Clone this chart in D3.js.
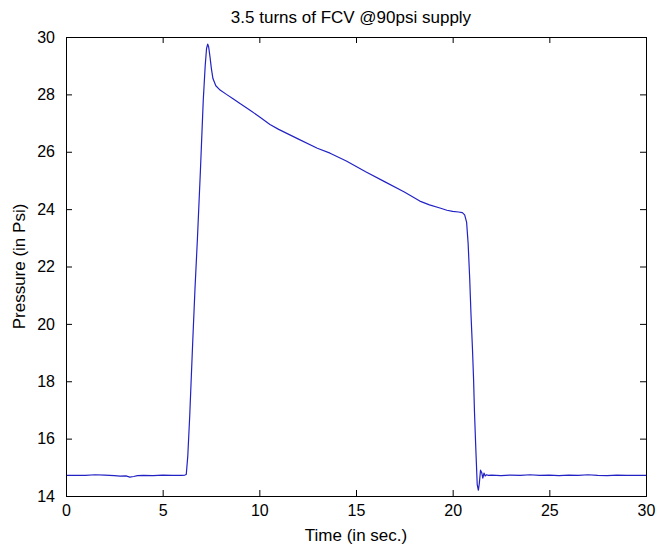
<!DOCTYPE html>
<html><head><meta charset="utf-8">
<script src="https://cdn.jsdelivr.net/npm/d3@7/dist/d3.min.js"></script>
<style>body{margin:0;background:#fff}svg{display:block}text{font-family:"Liberation Sans",Arial,sans-serif;fill:#000}</style>
</head><body>
<script>
const title = "3.5 turns of FCV @90psi supply";
const xLabel = "Time (in sec.)";
const yLabel = "Pressure (in Psi)";
const xTicks = [0,5,10,15,20,25,30];
const yTicks = [14,16,18,20,22,24,26,28,30];
const timeSec = [0,0.5,1,1.5,2,2.5,2.8,3.1,3.3,3.5,3.7,4,4.5,5,5.5,6,6.15,6.22,6.3,6.4,6.55,6.67,6.8,6.95,7.1,7.2,7.27,7.33,7.38,7.45,7.52,7.6,7.75,7.97,8.3,8.64,9.0,9.52,10.0,10.55,11,12,13,13.66,14.5,15.5,16.5,17.5,18.3,18.8,19.34,19.7,20.0,20.3,20.5,20.62,20.72,20.8,20.88,20.95,21.02,21.08,21.13,21.2,21.27,21.33,21.38,21.44,21.5,21.56,21.62,21.68,21.75,21.85,22,22.5,23,23.5,24,24.5,25,25.5,26,26.5,27,27.5,28,28.5,29,29.5,30];
const pressurePsi = [14.72,14.72,14.72,14.74,14.73,14.71,14.69,14.7,14.66,14.68,14.71,14.72,14.71,14.73,14.72,14.72,14.73,14.75,15.4,16.8,19.3,21.2,23.0,25.3,27.8,29.0,29.6,29.75,29.65,29.3,28.9,28.55,28.3,28.15,28.0,27.85,27.68,27.45,27.22,26.95,26.78,26.45,26.12,25.95,25.68,25.3,24.95,24.6,24.28,24.15,24.04,23.96,23.92,23.9,23.88,23.8,23.55,22.8,21.6,20.3,19.2,18.1,16.9,15.6,14.4,14.2,14.45,14.9,14.82,14.62,14.8,14.7,14.74,14.72,14.73,14.71,14.73,14.72,14.74,14.72,14.73,14.71,14.73,14.72,14.74,14.72,14.71,14.73,14.72,14.72,14.72];

const W = 657, H = 548;
const m = {left:66, right:11, top:37, bottom:52};
const svg = d3.select("body").append("svg").attr("width",W).attr("height",H);
const x = d3.scaleLinear().domain([0,30]).range([m.left, W-m.right]);
const y = d3.scaleLinear().domain([14,30]).range([H-m.bottom, m.top]);
const data = timeSec.map((t,i)=>({t, p:pressurePsi[i]}));

svg.append("path").datum(data)
  .attr("fill","none").attr("stroke","#2222c4").attr("stroke-width",1.2)
  .attr("stroke-linejoin","round")
  .attr("d", d3.line().x(d=>x(d.t)).y(d=>y(d.p)));

const tl = 6;
const fontSize = 16;
const bottomAx = svg.append("g").attr("transform",`translate(0,${H-m.bottom})`)
  .call(d3.axisBottom(x).tickValues(xTicks).tickSize(-tl).tickPadding(tl+3));
const topAx = svg.append("g").attr("transform",`translate(0,${m.top})`)
  .call(d3.axisTop(x).tickValues(xTicks).tickSize(-tl).tickFormat(""));
const leftAx = svg.append("g").attr("transform",`translate(${m.left},0)`)
  .call(d3.axisLeft(y).tickValues(yTicks).tickSize(-tl).tickPadding(tl+5));
const rightAx = svg.append("g").attr("transform",`translate(${W-m.right},0)`)
  .call(d3.axisRight(y).tickValues(yTicks).tickSize(-tl).tickFormat(""));
[bottomAx,topAx,leftAx,rightAx].forEach(g=>{
  g.select(".domain").attr("stroke","#000").attr("stroke-width",1);
  g.selectAll(".tick line").attr("stroke","#000");
  g.selectAll("text").attr("font-size",fontSize).attr("font-family",'"Liberation Sans",Arial,sans-serif');
});
svg.append("text").attr("x",351).attr("y",23).attr("text-anchor","middle")
  .attr("font-size",17).text(title);
svg.append("text").attr("x",356).attr("y",541).attr("text-anchor","middle")
  .attr("font-size",17).text(xLabel);
svg.append("text").attr("transform",`translate(25,${(m.top+H-m.bottom)/2}) rotate(-90)`)
  .attr("text-anchor","middle").attr("font-size",17).text(yLabel);
</script>
</body></html>
